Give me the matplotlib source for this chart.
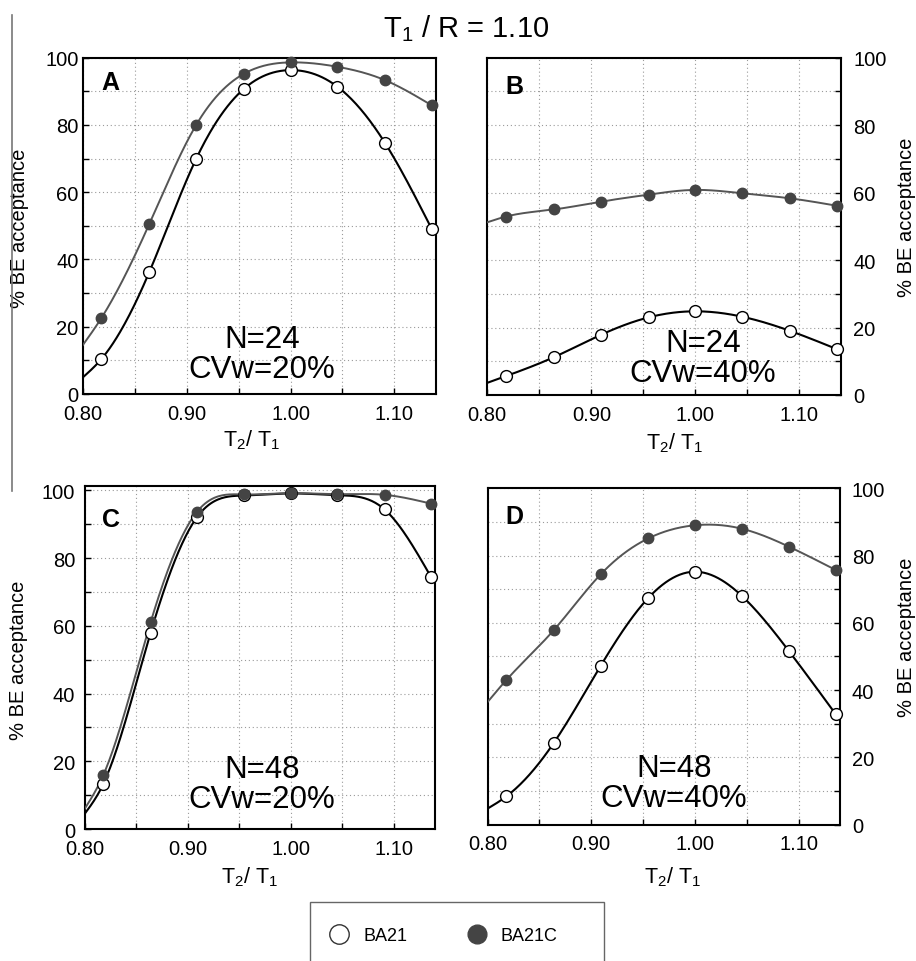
import numpy as np
import matplotlib
matplotlib.use("Agg")
import matplotlib.pyplot as plt
from matplotlib.ticker import MultipleLocator, FormatStrFormatter
from matplotlib.lines import Line2D
from matplotlib.patches import Rectangle

plt.rcParams['font.family'] = ['Liberation Sans', 'DejaVu Sans']
plt.rcParams['mathtext.default'] = 'regular'

# T2/T1 ratios of the simulated points
x_ratio = [0.818, 0.864, 0.909, 0.955, 1.000, 1.045, 1.091, 1.136]
# where the fitted curves start (left edge of each panel)
x_start = 0.80

# % BE acceptance
A_ba21 = [10.4, 36.2, 69.8, 90.7, 96.3, 91.4, 74.6, 49.0]
A_ba21c = [22.6, 50.5, 79.9, 95.2, 98.6, 97.3, 93.3, 85.8]
B_ba21 = [5.6, 11.2, 17.8, 23.0, 24.8, 23.2, 19.0, 13.6]
B_ba21c = [52.9, 55.0, 57.3, 59.4, 60.8, 59.8, 58.3, 56.1]
C_ba21 = [13.3, 58.0, 92.1, 98.5, 99.1, 98.6, 94.4, 74.5]
C_ba21c = [15.9, 61.1, 93.7, 98.8, 99.2, 98.9, 98.7, 96.1]
D_ba21 = [8.4, 24.4, 47.2, 67.4, 75.2, 68.1, 51.5, 32.8]
D_ba21c = [43.0, 57.9, 74.4, 85.1, 89.0, 88.0, 82.6, 75.7]

# curve values at the left edge (x = 0.80): [BA21, BA21C]
A_start = [4.9, 14.5]
B_start = [3.6, 51.2]
C_start = [4.5, 6.0]
D_start = [4.8, 36.5]

panel_labels = ["A", "B", "C", "D"]
n_values = ["N=24", "N=24", "N=48", "N=48"]
cv_values = ["CVw=20%", "CVw=40%", "CVw=20%", "CVw=40%"]


def natural_spline(x, y, xs):
    x = np.asarray(x, float)
    y = np.asarray(y, float)
    n = len(x)
    h = np.diff(x)
    A = np.zeros((n, n))
    r = np.zeros(n)
    A[0, 0] = 1
    A[-1, -1] = 1
    for i in range(1, n - 1):
        A[i, i - 1] = h[i - 1]
        A[i, i] = 2 * (h[i - 1] + h[i])
        A[i, i + 1] = h[i]
        r[i] = 6 * ((y[i + 1] - y[i]) / h[i] - (y[i] - y[i - 1]) / h[i - 1])
    M = np.linalg.solve(A, r)
    idx = np.clip(np.searchsorted(x, xs) - 1, 0, n - 2)
    x0, x1 = x[idx], x[idx + 1]
    hh = x1 - x0
    a = (x1 - xs) / hh
    b = (xs - x0) / hh
    return (a * y[idx] + b * y[idx + 1]
            + ((a ** 3 - a) * M[idx] + (b ** 3 - b) * M[idx + 1]) * hh ** 2 / 6)


fig = plt.figure(figsize=(9.16, 9.62), dpi=100)

# [left, bottom, width, height] in figure fractions
rects = [
    [0.0903, 0.5894, 0.3857, 0.3496],
    [0.5320, 0.5884, 0.3861, 0.3506],
    [0.0925, 0.1372, 0.3824, 0.3569],
    [0.5324, 0.1417, 0.3846, 0.3497],
]
series = [(A_ba21, A_ba21c, A_start), (B_ba21, B_ba21c, B_start),
          (C_ba21, C_ba21c, C_start), (D_ba21, D_ba21c, D_start)]
ytops = [100, 100, 101.4, 100]
letter_pos = [(0.077, 0.928), (0.077, 0.917), (0.075, 0.903), (0.075, 0.919)]
text_pos = [(0.507, 0.120), (0.61, 0.110), (0.506, 0.131), (0.529, 0.124)]
ylab_pos = [(-0.18, 0.497), (1.186, 0.53), (-0.19, 0.493), (1.189, 0.56)]
xlab_pos = [(0.479, -0.134), (0.531, -0.139), (0.472, -0.137), (0.526, -0.152)]
ypads = [3, 9, 7, 8.5]

gray = '#555555'
dark = '#444444'

for i, rect in enumerate(rects):
    ax = fig.add_axes(rect)
    y_open, y_fill, start = series[i]
    xs = np.linspace(x_start, x_ratio[-1], 300)
    cx = [x_start] + x_ratio
    ax.plot(xs, natural_spline(cx, [start[0]] + y_open, xs), color='black', lw=1.5, zorder=3)
    ax.plot(xs, natural_spline(cx, [start[1]] + y_fill, xs), color=gray, lw=1.4, zorder=4)
    ax.plot(x_ratio, y_open, 'o', ms=8.5, mfc='white', mec='black', mew=1.0,
            zorder=5, clip_on=False)
    ax.plot(x_ratio, y_fill, 'o', ms=7.5, mfc=dark, mec=dark, zorder=6, clip_on=False)

    ax.set_xlim(0.80, 1.14)
    ax.set_ylim(0, ytops[i])
    ax.xaxis.set_major_locator(MultipleLocator(0.1))
    ax.xaxis.set_minor_locator(MultipleLocator(0.05))
    ax.xaxis.set_major_formatter(FormatStrFormatter('%.2f'))
    ax.yaxis.set_major_locator(MultipleLocator(20))
    ax.yaxis.set_minor_locator(MultipleLocator(10))
    ax.grid(which='both', color='#9a9a9a', lw=0.8, linestyle=(0, (1, 2.5)))
    ax.set_axisbelow(True)
    for sp in ax.spines.values():
        sp.set_linewidth(1.5)
    ax.tick_params(which='both', direction='in', length=4, width=1, labelsize=14.5)
    ax.tick_params(axis='x', pad=7)
    ax.tick_params(axis='y', pad=ypads[i])

    if i % 2 == 1:
        ax.yaxis.tick_right()
        ax.yaxis.set_label_position('right')
    ax.set_ylabel('% BE acceptance', fontsize=14.5, va='center')
    ax.yaxis.set_label_coords(*ylab_pos[i])
    ax.set_xlabel('$T_2$/ $T_1$', fontsize=15.5, va='center')
    ax.xaxis.set_label_coords(*xlab_pos[i])

    ax.text(letter_pos[i][0], letter_pos[i][1], panel_labels[i], transform=ax.transAxes,
            fontsize=18, fontweight='bold', ha='center', va='center')
    ax.text(text_pos[i][0], text_pos[i][1], n_values[i] + '\n' + cv_values[i],
            transform=ax.transAxes, fontsize=22.5, ha='center', va='center',
            linespacing=1.0)

fig.text(466 / 916, 1 - 37 / 962, '$T_1$ / R = 1.10', fontsize=21, ha='center', va='baseline')

# thin vertical rule on the left
fig.add_artist(Line2D([12.3 / 916, 12.3 / 916], [1 - 16 / 962, 1 - 492 / 962],
                      transform=fig.transFigure, color='#777777', lw=1.2))

# legend
handles = [Line2D([], [], ls='none', marker='o', ms=14, mfc='white', mec='#333333', mew=1.0),
           Line2D([], [], ls='none', marker='o', ms=13.5, mfc=dark, mec=dark)]
fig.legend(handles, ['BA21', 'BA21C'], loc='center left', ncol=2,
           bbox_to_anchor=(330 / 916, 1 - 937 / 962), frameon=False, fontsize=13,
           borderpad=0, borderaxespad=0, handlelength=1.0, handletextpad=0.83,
           columnspacing=3.37)
fig.add_artist(Rectangle((310 / 916, -0.05), 294 / 916, (962 - 903) / 962 + 0.05,
                         transform=fig.transFigure, fill=False, edgecolor='#666666', lw=1.0))

fig.savefig('out.png', dpi=100)
